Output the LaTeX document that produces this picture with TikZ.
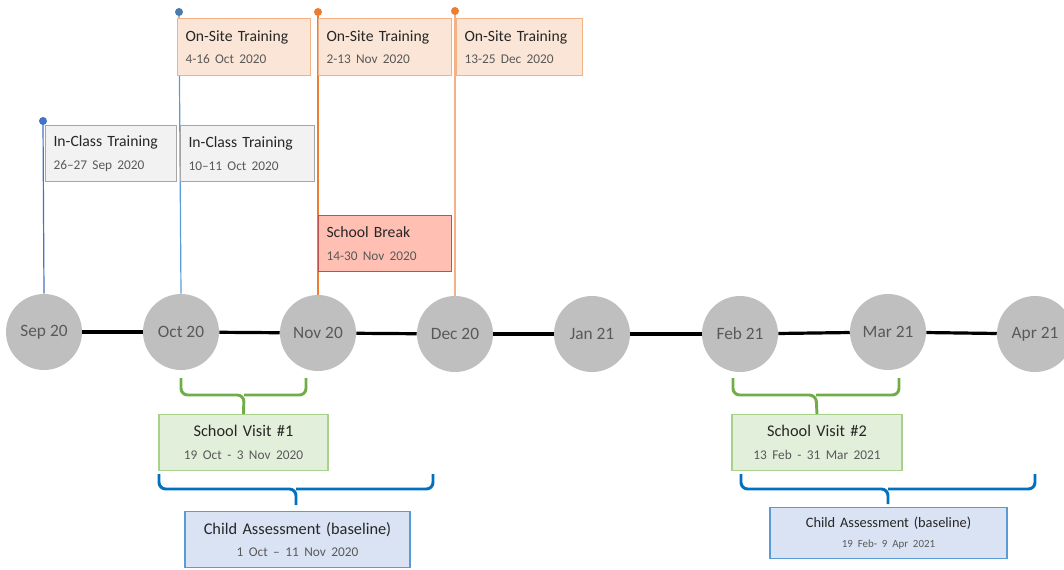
\documentclass[tikz,border=0pt]{standalone}
\usepackage{fontspec}
\setmainfont{Carlito}
\usetikzlibrary{positioning}

\definecolor{monthgray}{HTML}{BFBFBF}
\definecolor{textdark}{HTML}{262626}
\definecolor{textgray}{HTML}{595959}
\definecolor{classfill}{HTML}{F2F2F2}
\definecolor{classdraw}{HTML}{A6A6A6}
\definecolor{sitefill}{HTML}{FBE5D6}
\definecolor{sitedraw}{HTML}{F4B183}
\definecolor{breakfill}{HTML}{FFBFB3}
\definecolor{breakdraw}{HTML}{C0504D}
\definecolor{visitfill}{HTML}{E2EFDA}
\definecolor{visitdraw}{HTML}{A9D18E}
\definecolor{assessfill}{HTML}{DAE3F3}
\definecolor{assessdraw}{HTML}{5B9BD5}
\definecolor{bracegreen}{HTML}{70AD47}
\definecolor{braceblue}{HTML}{0070C0}
\definecolor{pindarkblue}{HTML}{4472C4}
\definecolor{pinblue}{HTML}{5B9BD5}
\definecolor{pinorange}{HTML}{ED7D31}
\definecolor{pinlightorange}{HTML}{F4B183}

\begin{document}
\begin{tikzpicture}[
  x=0.75pt, y=-0.75pt,
  month/.style={
    circle,
    fill=monthgray,
    minimum size=57pt,
    inner sep=0pt,
    text=textgray,
    font=\fontsize{13}{15}\selectfont
  },
  event/.style={
    rectangle,
    draw,
    line width=0.8pt,
    anchor=north west,
    align=left,
    inner xsep=6pt,
    inner ysep=0pt,
    minimum height=42pt,
    text width=#1,
    text=textdark,
    font=\fontsize{11.75}{17}\selectfont
  },
  span/.style={
    event=#1,
    anchor=north,
    align=center
  },
  classbox/.style={fill=classfill, draw=classdraw},
  sitebox/.style={fill=sitefill, draw=sitedraw},
  breakbox/.style={fill=breakfill, draw=breakdraw},
  visitbox/.style={fill=visitfill, draw=visitdraw},
  assessbox/.style={fill=assessfill, draw=assessdraw},
  timeline/.style={line width=2.4pt, black},
  pin/.style={line width=0.9pt},
  brace/.style={line width=2.2pt, rounded corners=5pt}
]
\useasboundingbox (0,0) rectangle (1064,569);

\newcommand{\evdate}[1]{{\color{textgray}\fontsize{10}{12}\selectfont #1}}

% ============================================================
% Months along the timeline
% ============================================================

\node[month] (sep) at (44,332) {Sep 20};
\node[month] (oct) at (181,332) {Oct 20};
\node[month] (nov) at (318,333) {Nov 20};
\node[month] (dec) at (455,334) {Dec 20};
\node[month] (jan) at (592,334) {Jan 21};
\node[month] (feb) at (740,334) {Feb 21};
\node[month] (mar) at (888,332) {Mar 21};
\node[month] (apr) at (1035,334) {Apr 21};

\draw[timeline] (sep) -- (oct);
\draw[timeline] (oct) -- (nov);
\draw[timeline] (nov) -- (dec);
\draw[timeline] (dec) -- (jan);
\draw[timeline] (jan) -- (feb);
\draw[timeline] (feb) -- (mar);
\draw[timeline] (mar) -- (apr);

% ============================================================
% Pins from the months up to the training boxes
% ============================================================

\coordinate (pinsep) at (43,121);
\coordinate (pinoct) at (179,12);
\coordinate (pinnov) at (318,12);
\coordinate (pindec) at (455,11);

\draw[pin, pindarkblue] (pinsep) -- (sep.north);
\draw[pin, pinblue] (pinoct) -- (oct.north);
\draw[pin, pinorange] (pinnov) -- (nov.north);
\draw[pin, pinlightorange] (pindec) -- (dec.north);

\fill[pindarkblue] (pinsep) circle (3pt);
\fill[pinblue!80!black] (pinoct) circle (3pt);
\fill[pinorange] (pinnov) circle (3pt);
\fill[pinorange] (pindec) circle (3pt);

% ============================================================
% Training and break boxes
% ============================================================

\node[event=86.25pt, classbox] (class1) at (45,125) {In-Class Training\\\evdate{26--27 Sep 2020}};
\node[event=88.5pt, classbox] (class2) at (180,125) {In-Class Training\\\evdate{10--11 Oct 2020}};

\node[event=87.75pt, sitebox, minimum height=42.75pt] (site1) at (177,18) {On-Site Training\\\evdate{4-16 Oct 2020}};
\node[event=87.75pt, sitebox, minimum height=42.75pt] (site2) at (318,18) {On-Site Training\\\evdate{2-13 Nov 2020}};
\node[event=82.5pt, sitebox, minimum height=42.75pt] (site3) at (456,18) {On-Site Training\\\evdate{13-25 Dec 2020}};

\node[event=87.75pt, breakbox] (break) at (318,215) {School Break\\\evdate{14-30 Nov 2020}};

% ============================================================
% School visits and child assessments below the line
% ============================================================

\node[span=114.75pt, visitbox, font=\fontsize{12.25}{17}\selectfont] (visit1) at (243.5,414) {School Visit \#1\\\evdate{19 Oct - 3 Nov 2020}};
\node[span=156.75pt, assessbox, font=\fontsize{12.25}{17}\selectfont] (assess1) at (297.5,511) {Child Assessment (baseline)\\\evdate{1 Oct -- 11 Nov 2020}};

\node[span=115.5pt, visitbox, font=\fontsize{12.25}{17}\selectfont] (visit2) at (817,414) {School Visit \#2\\\evdate{13 Feb - 31 Mar 2021}};
\node[span=165.75pt, assessbox, minimum height=38.25pt, font=\fontsize{10.8}{15}\selectfont] (assess2) at (888.5,507) {Child Assessment (baseline)\\{\color{textgray}\fontsize{8.2}{10}\selectfont 19 Feb- 9 Apr 2021}};

% Braces
\draw[brace, bracegreen] (181,378) |- (244,395) -- (visit1.north);
\draw[brace, bracegreen] (306,378) |- (244,395);

\draw[brace, braceblue] (159,474) |- (296,489) -- (296,505);
\draw[brace, braceblue] (433,474) |- (296,489);

\draw[brace, bracegreen] (733,378) |- (816,395) -- (visit2.north);
\draw[brace, bracegreen] (899,378) |- (816,395);

\draw[brace, braceblue] (741,474) |- (888,489) -- (888,504);
\draw[brace, braceblue] (1035,474) |- (888,489);

\end{tikzpicture}
\end{document}
